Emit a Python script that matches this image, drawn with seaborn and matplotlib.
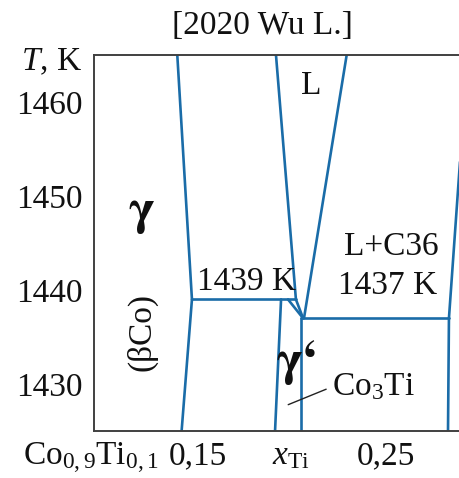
import numpy as np
import pandas as pd
import matplotlib
matplotlib.use("Agg")
import matplotlib.pyplot as plt
import matplotlib.transforms as mtransforms
import seaborn as sns

# Phase boundaries of the Co-Ti diagram near Co3Ti (x_Ti, T in K)
seg_names = ["gamma_liq", "gamma_solvus", "iso_1439", "gp_left", "L_left",
             "wedge_low", "wedge_high", "gp_right", "L_right", "iso_1437",
             "c36_low", "c36_high"]
seg_x = [[0.1443, 0.1521], [0.1521, 0.1466], [0.1521, 0.2074], [0.1995, 0.1963],
         [0.1968, 0.2074], [0.2032, 0.2112], [0.2074, 0.2112], [0.2101, 0.2101],
         [0.2344, 0.2117], [0.2101, 0.2888], [0.2888, 0.2883], [0.2888, 0.2987]]
seg_T = [[1465, 1439], [1439, 1425], [1439, 1439], [1439, 1425],
         [1465, 1439], [1439, 1437], [1439, 1437], [1437, 1425],
         [1465, 1437], [1437, 1437], [1437, 1425], [1437, 1465]]

x_ticks = [0.10, 0.15, 0.20, 0.25]
x_labels = [r"Co$_{0,9}$Ti$_{0,1}$", "0,15", r"$x_{\mathrm{Ti}}$", "0,25"]
y_ticks = [1430, 1440, 1450, 1460]
y_labels = ["1430", "1440", "1450", "1460"]

rows = []
for name, xs, ts in zip(seg_names, seg_x, seg_T):
    for x, t in zip(xs, ts):
        rows.append({"seg": name, "x": x, "T": t})
df = pd.DataFrame(rows)

sns.set_style("white")
plt.rcParams["font.family"] = ["Liberation Serif", "DejaVu Serif"]
plt.rcParams["mathtext.fontset"] = "custom"
plt.rcParams["mathtext.rm"] = "Liberation Serif"
plt.rcParams["mathtext.it"] = "Liberation Serif:italic"
plt.rcParams["mathtext.bf"] = "Liberation Serif:bold"

W, H = 459, 478
fig = plt.figure(figsize=(W / 100, H / 100), dpi=100)
ax = fig.add_axes([94 / W, 1 - 431 / H, (470 - 94) / W, (431 - 55) / H])

line_color = "#1a6ca8"
sns.lineplot(data=df, x="x", y="T", units="seg", estimator=None, sort=False,
             color=line_color, linewidth=1.9, ax=ax, legend=False)

ax.set_xlim(0.10, 0.30)
ax.set_ylim(1425, 1465)
ax.set_xlabel("")
ax.set_ylabel("")

for side in ["left", "top", "bottom", "right"]:
    ax.spines[side].set_color("#404040")
    ax.spines[side].set_linewidth(1.4)
    ax.spines[side].set_visible(True)

fs = 24
ax.set_yticks(y_ticks)
ax.set_yticklabels(y_labels, fontsize=fs)
ax.set_xticks(x_ticks)
ax.set_xticklabels(x_labels, fontsize=fs)
ax.tick_params(axis="both", direction="in", length=9, width=1.2, color="#404040",
               labelcolor="#111111")
ax.tick_params(axis="y", pad=8)
ax.tick_params(axis="x", pad=7)
# shift the composition labels slightly to the right of their ticks
shifts = [-3, 10, 9, 10]
for lab, dx in zip(ax.get_xticklabels(), shifts):
    lab.set_transform(lab.get_transform() +
                      mtransforms.ScaledTranslation(dx / 100, 0, fig.dpi_scale_trans))

ax.text(0.0936, 1463.4, r"$T$, K", fontsize=fs, ha="right", va="baseline",
        color="#111111")

fig.text(262 / W, 1 - 26 / H, "[2020 Wu L.]", fontsize=fs, ha="center",
         va="center", color="#111111")

txt = dict(color="#111111", ha="center", va="center")
greek = dict(family=["STIXGeneral", "DejaVu Serif"], fontweight="bold", fontsize=36)
ax.text(0.2154, 1461.7, "L", fontsize=fs, **txt)
ax.text(0.1250, 1448.3, "γ", **greek, **txt)
ax.text(0.1255, 1435.5, "(βCo)", fontsize=fs, rotation=90, **txt)
ax.text(0.1809, 1440.9, "1439 K", fontsize=fs, **txt)
ax.text(0.2580, 1444.6, "L+C36", fontsize=fs, **txt)
ax.text(0.2559, 1440.5, "1437 K", fontsize=fs, **txt)
ax.text(0.2085, 1432.3, "γ‘", **greek, **txt)
ax.annotate("Co$_3$Ti", xy=(0.2033, 1427.8), xytext=(0.2266, 1429.7),
            fontsize=fs, ha="left", va="center", color="#111111",
            arrowprops=dict(arrowstyle="-", color="#222222", lw=1.0,
                            shrinkA=2, shrinkB=0, relpos=(0, 0.5)))

fig.savefig("out.png", dpi=100)
